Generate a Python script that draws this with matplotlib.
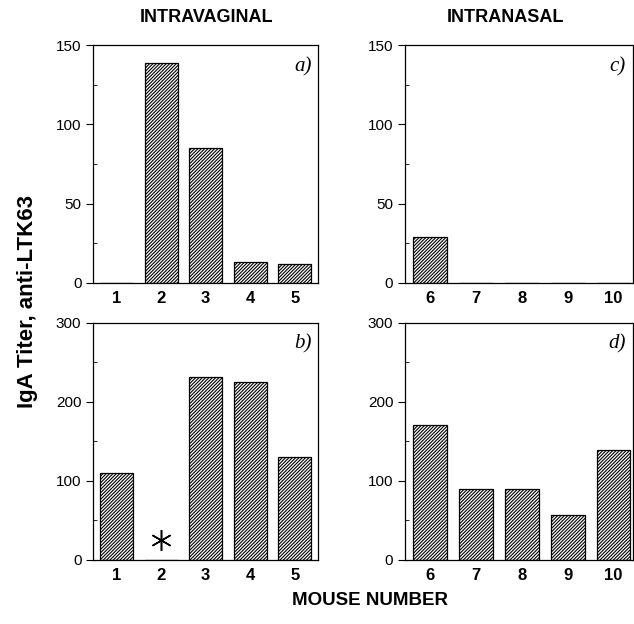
import numpy as np
import matplotlib
matplotlib.use("Agg")
from matplotlib import pyplot as plt

plt.rcParams['font.family'] = ['Liberation Sans', 'DejaVu Sans']
plt.rcParams['hatch.linewidth'] = 0.8

# IgA titer values
mice_vag = [1, 2, 3, 4, 5]
mice_nas = [6, 7, 8, 9, 10]
vag_a = [0, 139, 85, 13, 12]
nas_c = [29, 0, 0, 0, 0]
vag_b = [110, 0, 231, 225, 130]
nas_d = [171, 90, 90, 57, 139]

fig = plt.figure(figsize=(6.34, 6.24), dpi=100)

# axes positions (left, bottom, width, height)
pos = {
    'a': [0.147, 0.5465, 0.355, 0.381],
    'c': [0.639, 0.5465, 0.359, 0.381],
    'b': [0.147, 0.1026, 0.355, 0.380],
    'd': [0.639, 0.1026, 0.359, 0.380],
}
panels = [
    ('a', mice_vag, vag_a, 150, [0, 50, 100, 150], (0.47, 5.53)),
    ('c', mice_nas, nas_c, 150, [0, 50, 100, 150], (5.45, 10.42)),
    ('b', mice_vag, vag_b, 300, [0, 100, 200, 300], (0.47, 5.53)),
    ('d', mice_nas, nas_d, 300, [0, 100, 200, 300], (5.45, 10.42)),
]

for name, x, y, ymax, yt, xl in panels:
    ax = fig.add_axes(pos[name])
    ax.bar(x, y, width=0.74, color='white', edgecolor='black',
           hatch='/' * 10, linewidth=0.9)
    ax.set_ylim(0, ymax)
    ax.set_xlim(*xl)
    ax.set_yticks(yt)
    ax.set_yticks([v + yt[1] / 2 for v in yt[:-1]], minor=True)
    ax.set_xticks(x)
    ax.set_xticklabels([str(v) for v in x], fontsize=12, fontweight='bold')
    ax.tick_params(axis='x', length=0, pad=6)
    ax.tick_params(axis='y', labelsize=11, length=5, direction='out')
    ax.tick_params(axis='y', which='minor', length=3, direction='in')
    for s in ax.spines.values():
        s.set_linewidth(0.9)
    ax.text(0.97, 0.95, name + ')', transform=ax.transAxes, ha='right',
            va='top', fontsize=15, style='italic', family='Liberation Serif')
    if name == 'b':
        ax.plot([2], [25], marker=(6, 2, 0), markersize=15, color='black',
                markeredgewidth=1.1)

fig.text(0.325, 0.972, 'INTRAVAGINAL', ha='center', va='center', fontsize=13,
         fontweight='bold')
fig.text(0.797, 0.972, 'INTRANASAL', ha='center', va='center', fontsize=13,
         fontweight='bold')
fig.text(0.043, 0.517, 'IgA Titer, anti-LTK63', ha='center', va='center',
         rotation=90, fontsize=16, fontweight='bold')
fig.text(0.583, 0.038, 'MOUSE NUMBER', ha='center', va='center',
         fontsize=13.5, fontweight='bold')

plt.savefig('out.png', dpi=100)
